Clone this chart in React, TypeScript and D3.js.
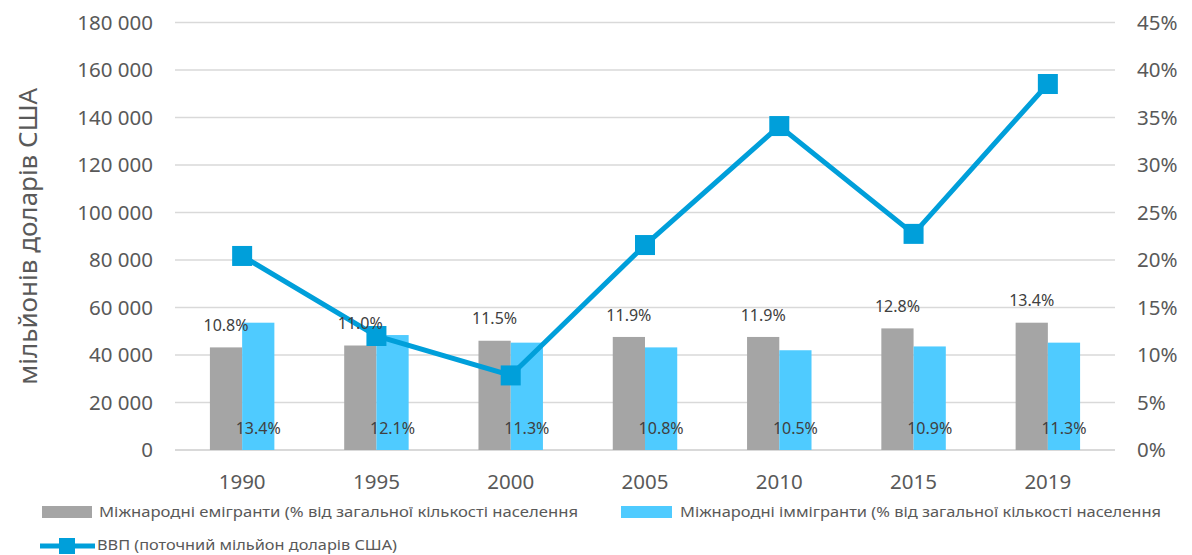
import { scaleBand, scaleLinear, line, format } from "d3";

const years = ["1990", "1995", "2000", "2005", "2010", "2015", "2019"];
const emigrants = [10.8, 11.0, 11.5, 11.9, 11.9, 12.8, 13.4];
const immigrants = [13.4, 12.1, 11.3, 10.8, 10.5, 10.9, 11.3];
const gdp = [81700, 48000, 31400, 86300, 136400, 91000, 154100];
const leftTicks = [0, 20000, 40000, 60000, 80000, 100000, 120000, 140000, 160000, 180000];
const rightTicks = [0, 5, 10, 15, 20, 25, 30, 35, 40, 45];

const legendEmig = "Міжнародні емігранти (% від загальної кількості населення";
const legendImmig = "Міжнародні іммігранти (% від загальної кількості населення";
const legendGdp = "ВВП (поточний мільйон доларів США)";
const yTitle = "мільйонів доларів США";

const width = 1192;
const height = 555;
const margin = { top: 22.5, right: 77, bottom: 105, left: 175 };

const grey = "#A5A5A5";
const lightBlue = "#4FCBFF";
const lineBlue = "#009FDA";
const textColor = "#595959";
const font = "'Noto Sans', 'Open Sans', sans-serif";

const fmtThousands = (v: number) => format(",d")(v).replace(/,/g, " ");

const App = () => {
  const innerW = width - margin.left - margin.right;
  const bottom = height - margin.bottom;

  const x = scaleBand()
    .domain(years)
    .range([margin.left, margin.left + innerW])
    .paddingInner(0.52)
    .paddingOuter(0.26);
  const sub = scaleBand().domain(["e", "i"]).range([0, x.bandwidth()]);

  const yLeft = scaleLinear().domain([0, 180000]).range([bottom, margin.top]);
  const yRight = scaleLinear().domain([0, 45]).range([bottom, margin.top]);

  const cx = (y: string) => (x(y) as number) + x.bandwidth() / 2;

  const gdpLine = line<number>()
    .x((_, i) => cx(years[i]))
    .y((d) => yLeft(d));

  const mk = 20;

  return (
    <svg
      width={width}
      height={height}
      style={{ position: "absolute", left: 0, top: 0, background: "#fff" }}
      fontFamily={font}
    >
      {leftTicks.map((t) => (
        <g key={t}>
          <line
            x1={margin.left}
            x2={margin.left + innerW}
            y1={yLeft(t)}
            y2={yLeft(t)}
            stroke="#D9D9D9"
            strokeWidth={t === 0 ? 2 : 1.5}
          />
          <text
            x={153}
            y={yLeft(t)}
            dy="0.35em"
            textAnchor="end"
            fontSize={20.5}
            fill={textColor}
          >
            {fmtThousands(t)}
          </text>
        </g>
      ))}
      {rightTicks.map((t) => (
        <text
          key={t}
          x={1137}
          y={yRight(t)}
          dy="0.35em"
          fontSize={20.5}
          fill={textColor}
        >
          {t + "%"}
        </text>
      ))}
      <text
        transform={`translate(37,${(margin.top + bottom) / 2}) rotate(-90)`}
        textAnchor="middle"
        fontSize={26}
        fill={textColor}
      >
        {yTitle}
      </text>
      {years.map((y) => (
        <text
          key={y}
          x={cx(y)}
          y={482}
          dy="0.35em"
          textAnchor="middle"
          fontSize={20.5}
          fill={textColor}
        >
          {y}
        </text>
      ))}

      {years.map((y, i) => {
        const x0 = x(y) as number;
        return (
          <g key={y}>
            <rect
              x={x0 + (sub("e") as number)}
              y={yRight(emigrants[i])}
              width={sub.bandwidth()}
              height={bottom - yRight(emigrants[i])}
              fill={grey}
            />
            <rect
              x={x0 + (sub("i") as number)}
              y={yRight(immigrants[i])}
              width={sub.bandwidth()}
              height={bottom - yRight(immigrants[i])}
              fill={lightBlue}
            />
          </g>
        );
      })}

      <path d={gdpLine(gdp) || ""} fill="none" stroke={lineBlue} strokeWidth={5} />
      {gdp.map((d, i) => (
        <rect
          key={i}
          x={cx(years[i]) - mk / 2}
          y={yLeft(d) - mk / 2}
          width={mk}
          height={mk}
          fill={lineBlue}
        />
      ))}

      {years.map((y, i) => {
        const x0 = x(y) as number;
        return (
          <g key={y} fontSize={16} fill="#404040">
            <text
              x={x0 + (sub("e") as number) + sub.bandwidth() / 2}
              y={yRight(emigrants[i]) - 22}
              dy="0.35em"
              textAnchor="middle"
            >
              {emigrants[i].toFixed(1) + "%"}
            </text>
            <text
              x={x0 + (sub("i") as number) + sub.bandwidth() / 2}
              y={428}
              dy="0.35em"
              textAnchor="middle"
            >
              {immigrants[i].toFixed(1) + "%"}
            </text>
          </g>
        );
      })}

      <g fontSize={15} fill={textColor}>
        <rect x={42} y={506} width={50} height={12} fill={grey} />
        <text x={99} y={512} dy="0.35em" textLength={479} lengthAdjust="spacingAndGlyphs">
          {legendEmig}
        </text>
        <rect x={621} y={506} width={51} height={12} fill={lightBlue} />
        <text x={680} y={512} dy="0.35em" textLength={481} lengthAdjust="spacingAndGlyphs">
          {legendImmig}
        </text>
        <line x1={40} x2={95} y1={546} y2={546} stroke={lineBlue} strokeWidth={5} />
        <rect x={59} y={538} width={16} height={16} fill={lineBlue} />
        <text x={97} y={545} dy="0.35em" textLength={300} lengthAdjust="spacingAndGlyphs">
          {legendGdp}
        </text>
      </g>
    </svg>
  );
};

export default App;
